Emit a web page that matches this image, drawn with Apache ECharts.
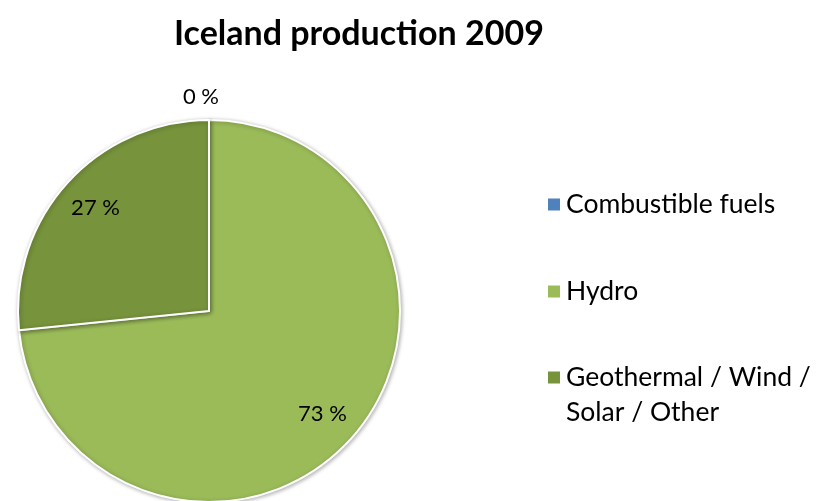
<!DOCTYPE html>
<html>
<head>
<meta charset="utf-8">
<script src="https://cdn.jsdelivr.net/npm/echarts@6/dist/echarts.min.js"></script>
<style>
  html, body { margin: 0; padding: 0; background: #fff; }
  #chart { width: 817px; height: 501px; }
</style>
</head>
<body>
<div id="chart"></div>
<script>
const categories = ['Combustible fuels', 'Hydro', 'Geothermal / Wind / Solar / Other']
// leading blank line keeps the icon level with the first line of the wrapped label
const legendLabels = ['Combustible fuels', 'Hydro', ' \nGeothermal / Wind /\nSolar / Other']
const shares = [0, 73.4, 26.6]
const colors = ['#4F81BD', '#9BBB59', '#77933C']

const FONT = 'Lato, "Open Sans", sans-serif'
const chart = echarts.init(document.getElementById('chart'))

const pieData = categories.map((name, i) => ({
  name,
  value: shares[i],
  itemStyle: { color: colors[i] },
}))

// label-only overlay ring so inside labels sit further out, like the original
const labelData = categories.map((name, i) => ({
  name,
  value: shares[i],
  label: shares[i] === 0 ? { position: 'outside' } : { position: 'inside' },
}))

function legendFor(i, top) {
  return {
    data: [categories[i]],
    left: 546,
    top,
    padding: 0,
    orient: 'vertical',
    icon: 'rect',
    itemWidth: 14,
    itemHeight: 14,
    selectedMode: false,
    formatter: () => legendLabels[i],
    textStyle: { fontFamily: FONT, fontSize: 26.5, color: '#000', lineHeight: 35 },
  }
}

chart.setOption({
  animation: false,
  title: {
    text: 'Iceland production 2009',
    left: 169,
    top: 12,
    textStyle: { fontFamily: FONT, fontSize: 34, fontWeight: 'bold', color: '#000' },
  },
  legend: [legendFor(0, 187), legendFor(1, 274), legendFor(2, 325)],
  series: [
    {
      type: 'pie',
      center: [209, 311],
      radius: 191,
      startAngle: 90,
      clockwise: true,
      stillShowZeroSum: true,
      label: { show: false },
      labelLine: { show: false },
      itemStyle: {
        borderColor: '#fff',
        borderWidth: 2,
        shadowBlur: 4,
        shadowColor: 'rgba(0,0,0,0.3)',
        shadowOffsetX: 1,
        shadowOffsetY: 1,
      },
      data: pieData,
    },
    {
      type: 'pie',
      center: [209, 311],
      radius: [109, 191],
      startAngle: 90,
      clockwise: true,
      silent: true,
      showEmptyCircle: false,
      minShowLabelAngle: -1,
      itemStyle: { color: 'rgba(0,0,0,0)', borderWidth: 0 },
      labelLine: { show: false, length: 2, length2: 0 },
      label: {
        formatter: (p) => Math.round(p.percent) + ' %',
        fontFamily: FONT,
        fontSize: 22,
        color: '#000',
      },
      labelLayout: (p) => (p.dataIndex === 0 ? { dx: 15, dy: -21 } : {}),
      data: labelData,
    },
  ],
})
</script>
</body>
</html>
